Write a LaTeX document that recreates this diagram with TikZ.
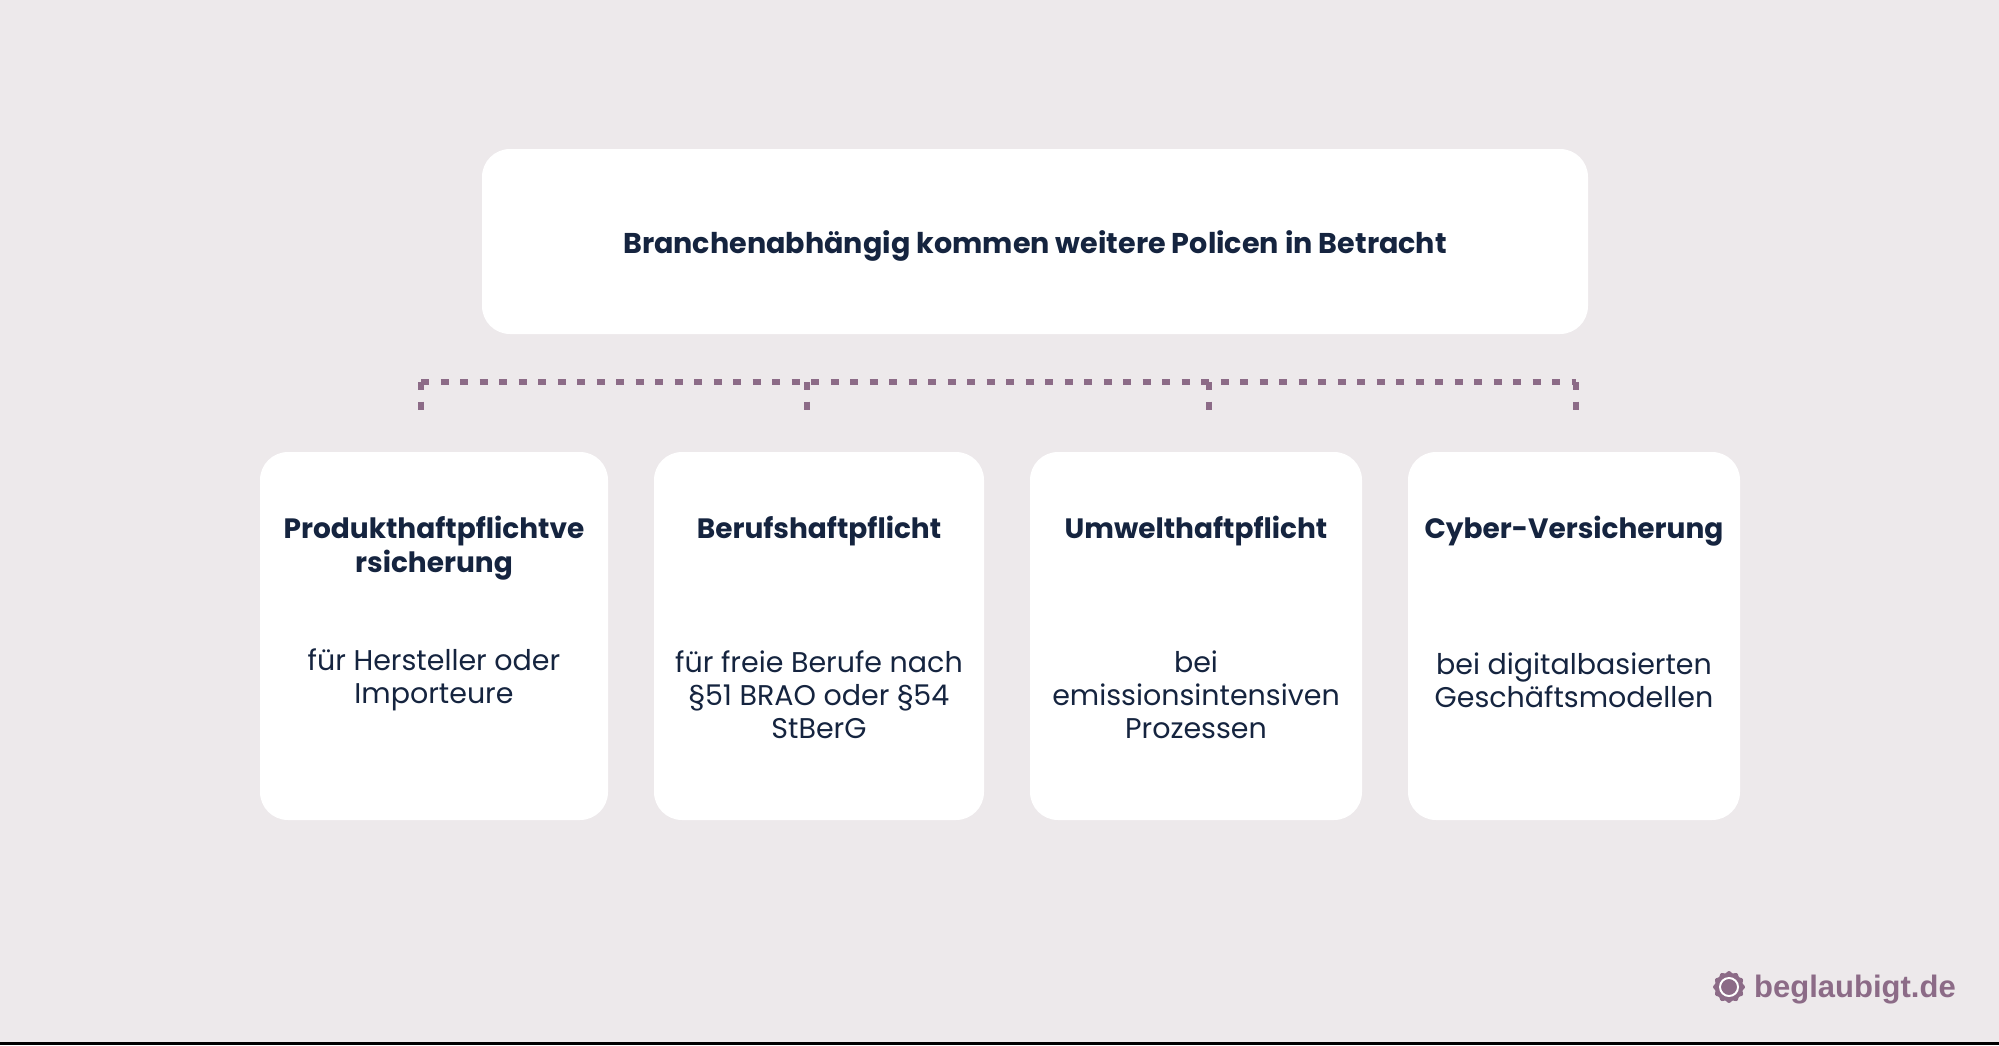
\documentclass[tikz,border=0pt]{standalone}
\usepackage{fontspec}
\setmainfont{Poppins}
\newfontfamily\logofont{Liberation Sans}
\definecolor{bgc}{HTML}{EDE9EB}
\definecolor{navy}{HTML}{15243F}
\definecolor{plum}{HTML}{8C6B87}
\begin{document}
\begin{tikzpicture}[x=1pt,y=-1pt,
  card/.style={fill=white, draw=none, rounded corners=28pt, inner sep=0pt},
  headtext/.style={font=\fontsize{28.6}{34}\selectfont\bfseries, text=navy, align=center, inner sep=0pt},
  cardtitle/.style={font=\fontsize{28}{34}\selectfont\bfseries, text=navy, align=center, inner sep=0pt},
  cardbody/.style={font=\fontsize{28.5}{33}\selectfont, text=navy, align=center, inner sep=0pt},
  bracket/.style={draw=plum, line width=5.5pt, dash pattern=on 8pt off 11.5pt},
  logotext/.style={font=\fontsize{31}{36}\selectfont\logofont\bfseries, text=plum, inner sep=0pt, anchor=base west}]
\useasboundingbox (0,0) rectangle (1999,1045);
\fill[bgc] (0,0) rectangle (1999,1045);
\fill[black] (0,1042) rectangle (1999,1045);
% top box
\node[card, minimum width=1106pt, minimum height=185pt] (top) at (1035,241.5) {};
\node[headtext] (toptext) at (1035,245.5) {Branchenabhängig kommen weitere Policen in Betracht};
% cards
\node[card, minimum width=348pt, minimum height=368pt] (c1) at (434,636) {};
\node[card, minimum width=330pt, minimum height=368pt] (c2) at (819,636) {};
\node[card, minimum width=332pt, minimum height=368pt] (c3) at (1196,636) {};
\node[card, minimum width=332pt, minimum height=368pt] (c4) at (1574,636) {};
% card titles
\node[cardtitle] (t1) at (434,548) {Produkthaftpflichtve\\rsicherung};
\node[cardtitle] (t2) at (819,531) {Berufshaftpflicht};
\node[cardtitle] (t3) at (1196,531) {Umwelthaftpflicht};
\node[cardtitle] (t4) at (1574,531) {Cyber-Versicherung};
% card bodies
\node[cardbody] (b1) at (434,680) {für Hersteller oder\\Importeure};
\node[cardbody] (b2) at (819,694.5) {für freie Berufe nach\\§51 BRAO oder §54\\StBerG};
\node[cardbody] (b3) at (1196,694.5) {bei\\emissionsintensiven\\Prozessen};
\node[cardbody] (b4) at (1574,680) {bei digitalbasierten\\Geschäftsmodellen};
% bracket
\coordinate (h1) at (421,382);
\coordinate (h2) at (807,382);
\coordinate (h3) at (1209,382);
\coordinate (h4) at (1576,382);
\coordinate (v1) at (421,418);
\coordinate (v2) at (807,418);
\coordinate (v3) at (1209,418);
\coordinate (v4) at (1576,418);
\draw[bracket] (h1) -- (h4);
\draw[bracket] (h1) -- (v1);
\draw[bracket] (h2) -- (v2);
\draw[bracket] (h3) -- (v3);
\draw[bracket] (h4) -- (v4);
% logo
\begin{scope}[shift={(1729,987)}]
\fill[plum] plot[domain=0:357, samples=120, smooth cycle] (\x:{15+0.9*cos(12*\x)});
\draw[white, line width=2pt] (0,0) circle (9);
\fill[plum] (0,0) circle (7.5);
\end{scope}
\node[logotext] (logo) at (1754,997) {beglaubigt.de};
\end{tikzpicture}
\end{document}
